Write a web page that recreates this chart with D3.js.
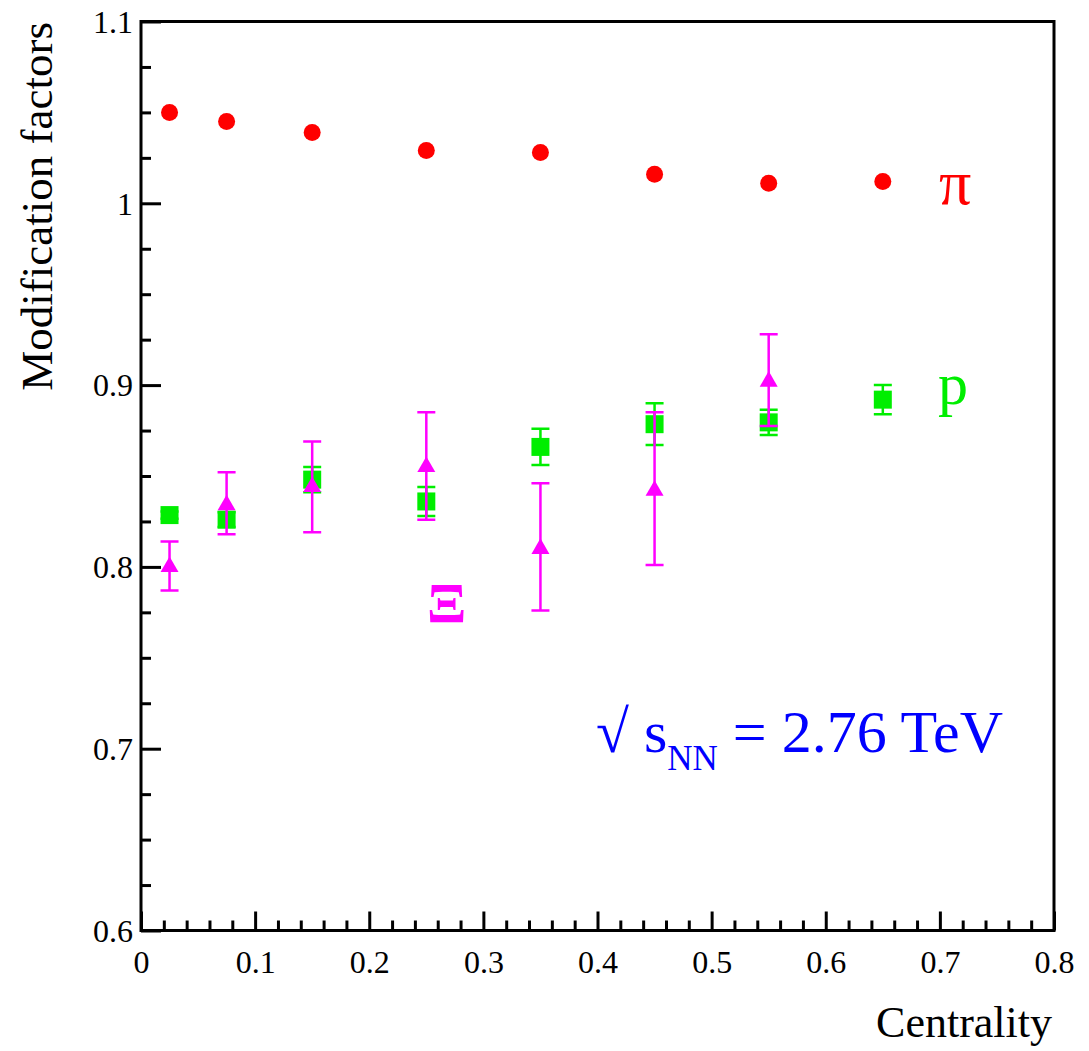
<!DOCTYPE html>
<html>
<head>
<meta charset="utf-8">
<script src="https://cdn.jsdelivr.net/npm/d3@7"></script>
<style>
  body { margin: 0; background: #fff; }
  svg { display: block; }
</style>
</head>
<body>
<div id="chart"></div>
<script>
// chart data
let centrality = [0.025, 0.075, 0.15, 0.25, 0.35, 0.45, 0.55, 0.65];
let pionValues = [1.050, 1.045, 1.039, 1.029, 1.028, 1.016, 1.011, 1.012];
let protonValues = [0.8285, 0.826, 0.848, 0.836, 0.866, 0.8785, 0.8795, 0.892];
let protonErrors = [0.002, 0.004, 0.007, 0.008, 0.010, 0.0115, 0.007, 0.008];
let xiValues = [0.800, 0.834, 0.844, 0.855, 0.810, 0.842, 0.902, null];
let xiErrUp = [0.014, 0.018, 0.025, 0.030, 0.036, 0.043, 0.026, null];
let xiErrDown = [0.013, 0.016, 0.025, 0.029, 0.034, 0.041, 0.0245, null];

let xMajorTicks = [0, 0.1, 0.2, 0.3, 0.4, 0.5, 0.6, 0.7, 0.8];
let yMajorTicks = [0.6, 0.7, 0.8, 0.9, 1.0, 1.1];
let xTickLabels = ['0', '0.1', '0.2', '0.3', '0.4', '0.5', '0.6', '0.7', '0.8'];
let yTickLabels = ['0.6', '0.7', '0.8', '0.9', '1', '1.1'];

let svgWidth = 1089;
let svgHeight = 1051;
let serif = "'Liberation Serif', 'Times New Roman', serif";

let frame = { left: 141, right: 1054, top: 21.5, bottom: 930.5 };

let svg = d3.select('#chart')
    .append('svg')
    .attr('width', svgWidth)
    .attr('height', svgHeight)
    .attr('font-family', serif);

let xScale = d3.scaleLinear().domain([0, 0.8]).range([frame.left, frame.right]);
let yScale = d3.scaleLinear().domain([0.6, 1.1]).range([frame.bottom, frame.top]);

// minor ticks: 5 divisions on x, 4 on y
let xMinor = d3.range(0, 41).map(i => i * 0.02).filter((v, i) => i % 5 != 0);
let yMinor = d3.range(0, 21).map(i => 0.6 + i * 0.025).filter((v, i) => i % 4 != 0);

// frame
svg.append('rect')
    .attr('x', frame.left)
    .attr('y', frame.top)
    .attr('width', frame.right - frame.left)
    .attr('height', frame.bottom - frame.top)
    .attr('fill', 'none')
    .attr('stroke', '#000')
    .attr('stroke-width', 3);

// x axis, ticks point inward
let xAxisG = svg.append('g').attr('transform', `translate(0, ${frame.bottom})`);
xAxisG.call(d3.axisBottom(xScale).tickValues(xMajorTicks).tickSizeInner(-19).tickSizeOuter(0)
    .tickFormat((d, i) => xTickLabels[i]));
xAxisG.append('g').call(d3.axisBottom(xScale).tickValues(xMinor).tickSizeInner(-10).tickSizeOuter(0).tickFormat(''));
xAxisG.attr('font-family', serif).attr('font-size', 32);
xAxisG.selectAll('.domain').remove();
xAxisG.selectAll('line').attr('stroke', '#000').attr('stroke-width', 3);
xAxisG.selectAll('text')
    .attr('y', 42)
    .attr('dy', 0)
    .attr('fill', '#000');

// y axis
let yAxisG = svg.append('g').attr('transform', `translate(${frame.left}, 0)`);
yAxisG.call(d3.axisLeft(yScale).tickValues(yMajorTicks).tickSizeInner(-20).tickSizeOuter(0)
    .tickFormat((d, i) => yTickLabels[i]));
yAxisG.append('g').call(d3.axisLeft(yScale).tickValues(yMinor).tickSizeInner(-10).tickSizeOuter(0).tickFormat(''));
yAxisG.attr('font-family', serif).attr('font-size', 32);
yAxisG.selectAll('.domain').remove();
yAxisG.selectAll('line').attr('stroke', '#000').attr('stroke-width', 3);
yAxisG.selectAll('text')
    .attr('x', -8)
    .attr('dy', '0.34em')
    .attr('fill', '#000');

// axis titles
svg.append('text')
    .attr('x', 1052)
    .attr('y', 1037)
    .attr('text-anchor', 'end')
    .attr('font-size', 44)
    .text('Centrality');

svg.append('text')
    .attr('transform', 'translate(52, 22) rotate(-90)')
    .attr('text-anchor', 'end')
    .attr('font-size', 45)
    .text('Modification factors');

// proton series (green squares with error bars)
let protons = centrality.map((c, i) => ({ x: c, y: protonValues[i], e: protonErrors[i] }));
let pGroup = svg.append('g');
let capHalf = 9;
pGroup.selectAll('.perr')
    .data(protons)
    .enter()
    .append('path')
    .attr('d', d => {
        let x = xScale(d.x), y1 = yScale(d.y + d.e), y2 = yScale(d.y - d.e);
        return `M${x},${y1}V${y2}M${x - capHalf},${y1}H${x + capHalf}M${x - capHalf},${y2}H${x + capHalf}`;
    })
    .attr('stroke', '#00ee00')
    .attr('stroke-width', 2.5)
    .attr('fill', 'none');
pGroup.selectAll('.psq')
    .data(protons)
    .enter()
    .append('rect')
    .attr('x', d => xScale(d.x) - 9)
    .attr('y', d => yScale(d.y) - 9)
    .attr('width', 18)
    .attr('height', 18)
    .attr('fill', '#00ee00');

// Xi series (magenta triangles)
let xis = centrality.map((c, i) => ({ x: c, y: xiValues[i], up: xiErrUp[i], down: xiErrDown[i] }))
    .filter(d => d.y != null);
let xGroup = svg.append('g');
xGroup.selectAll('.xerr')
    .data(xis)
    .enter()
    .append('path')
    .attr('d', d => {
        let x = xScale(d.x), y1 = yScale(d.y + d.up), y2 = yScale(d.y - d.down);
        return `M${x},${y1}V${y2}M${x - capHalf},${y1}H${x + capHalf}M${x - capHalf},${y2}H${x + capHalf}`;
    })
    .attr('stroke', '#ff00ff')
    .attr('stroke-width', 2.5)
    .attr('fill', 'none');
xGroup.selectAll('.xtri')
    .data(xis)
    .enter()
    .append('path')
    .attr('d', d3.symbol().type(d3.symbolTriangle).size(140))
    .attr('transform', d => `translate(${xScale(d.x)}, ${yScale(d.y)})`)
    .attr('fill', '#ff00ff');

// pion series (red circles)
svg.append('g').selectAll('circle')
    .data(centrality.map((c, i) => ({ x: c, y: pionValues[i] })))
    .enter()
    .append('circle')
    .attr('cx', d => xScale(d.x))
    .attr('cy', d => yScale(d.y))
    .attr('r', 8.5)
    .attr('fill', '#ff0000');

// series labels
svg.append('text')
    .attr('x', 939).attr('y', 204)
    .attr('fill', '#ff0000')
    .attr('font-size', 64)
    .text('π');
svg.append('text')
    .attr('x', 938).attr('y', 404)
    .attr('fill', '#00ee00')
    .attr('font-size', 60)
    .text('p');
svg.append('text')
    .attr('x', 427).attr('y', 623)
    .attr('fill', '#ff00ff')
    .attr('font-size', 58)
    .attr('font-weight', 'bold')
    .text('Ξ');

// energy label
let energy = svg.append('text')
    .attr('x', 596).attr('y', 752)
    .attr('fill', '#0000ff')
    .attr('font-size', 60);
energy.append('tspan').text('√ s');
energy.append('tspan').attr('dy', 18).attr('font-size', 35).text('NN');
energy.append('tspan').attr('dy', -18).text(' = 2.76 TeV');
</script>
</body>
</html>
